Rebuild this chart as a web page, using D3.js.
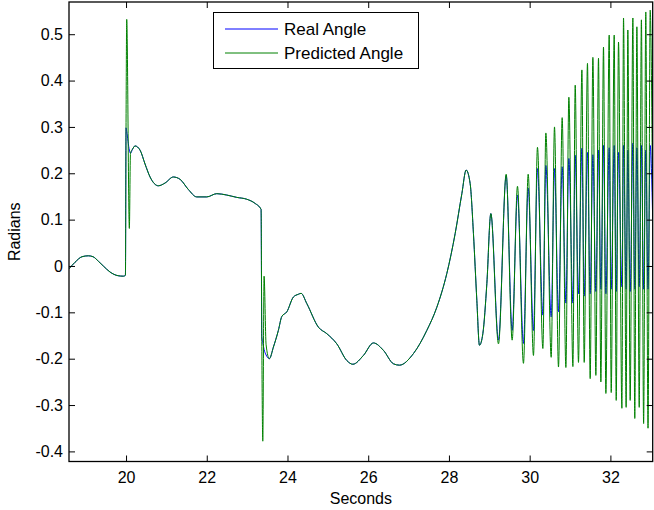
<!DOCTYPE html>
<html>
<head>
<meta charset="utf-8">
<script src="https://cdn.jsdelivr.net/npm/d3@7"></script>
<style>
  html, body { margin: 0; padding: 0; background: #fff; }
  svg { display: block; }
  text { font-family: "Liberation Sans", Arial, Helvetica, sans-serif; fill: #000; }
</style>
</head>
<body>
<svg id="chart" width="654" height="510"></svg>
<script>
// Sample times (s) and the two angle traces (rad)
const seconds = [
  18.587, 18.736, 18.910, 19.066, 19.182, 19.318, 19.437, 19.603, 19.802, 19.933,
  19.985, 20.000, 20.017, 20.082, 20.110, 20.161, 20.223, 20.347, 20.471, 20.595,
  20.800, 20.967, 21.172, 21.338, 21.544, 21.752, 22.000, 22.248, 22.496, 22.743,
  22.991, 23.197, 23.346, 23.363, 23.388, 23.420, 23.470, 23.551, 23.651, 23.774,
  23.859, 23.983, 24.146, 24.270, 24.337, 24.478, 24.766, 24.974, 25.222, 25.470,
  25.619, 25.881, 26.129, 26.377, 26.625, 26.773, 27.120, 27.452, 27.700, 27.948,
  28.154, 28.320, 28.426, 28.525, 28.607, 28.691, 28.756, 28.840, 28.939, 29.038,
  29.227, 29.418, 29.566, 29.698, 29.846, 29.963, 30.094, 30.193, 30.327, 30.401,
  30.533, 30.615, 30.714, 30.805, 30.897, 30.971, 31.071, 31.128, 31.209, 31.294,
  31.351, 31.432, 31.499, 31.566, 31.640, 31.705, 31.764, 31.829, 31.888, 31.970,
  32.020, 32.094, 32.144, 32.201, 32.285, 32.325, 32.390, 32.432, 32.490, 32.557,
  32.604, 32.656, 32.714, 32.768, 32.823, 32.877, 32.932, 32.986, 33.048
];

const realAngle = [
  -0.006, 0.008, 0.020, 0.022, 0.020, 0.010, 0.000, -0.013, -0.021, -0.022,
  -0.020, 0.298, 0.290, 0.250, 0.243, 0.252, 0.259, 0.250, 0.220, 0.192,
  0.173, 0.179, 0.192, 0.187, 0.165, 0.149, 0.149, 0.156, 0.153, 0.148,
  0.144, 0.135, 0.122, -0.153, -0.165, -0.180, -0.192, -0.200, -0.175, -0.139,
  -0.109, -0.099, -0.067, -0.061, -0.059, -0.081, -0.132, -0.146, -0.168, -0.204,
  -0.212, -0.193, -0.166, -0.182, -0.211, -0.214, -0.189, -0.139, -0.089, -0.016,
  0.070, 0.156, 0.207, 0.178, 0.070, -0.074, -0.171, -0.146, -0.038, 0.113,
  -0.160, 0.195, -0.139, 0.153, -0.167, 0.168, -0.139, 0.210, -0.106, 0.217,
  -0.110, 0.210, -0.099, 0.214, -0.080, 0.232, -0.080, 0.239, -0.060, 0.254,
  -0.065, 0.245, -0.060, 0.240, -0.055, 0.250, -0.050, 0.260, -0.060, 0.255,
  -0.050, 0.260, -0.055, 0.245, -0.045, 0.260, -0.050, 0.250, -0.055, 0.265,
  -0.050, 0.255, -0.045, 0.260, -0.050, 0.250, -0.050, 0.260, 0.100
];

const predictedAngle = [
  -0.006, 0.008, 0.020, 0.022, 0.020, 0.010, 0.000, -0.013, -0.021, -0.022,
  -0.020, 0.300, 0.532, 0.081, 0.243, 0.252, 0.259, 0.250, 0.220, 0.192,
  0.173, 0.179, 0.192, 0.187, 0.165, 0.149, 0.149, 0.156, 0.153, 0.148,
  0.144, 0.135, 0.122, -0.153, -0.378, -0.022, -0.170, -0.200, -0.175, -0.139,
  -0.109, -0.099, -0.067, -0.061, -0.059, -0.081, -0.132, -0.146, -0.168, -0.204,
  -0.212, -0.193, -0.166, -0.182, -0.211, -0.214, -0.189, -0.139, -0.089, -0.016,
  0.070, 0.156, 0.207, 0.178, 0.070, -0.074, -0.171, -0.146, -0.038, 0.113,
  -0.168, 0.198, -0.160, 0.172, -0.210, 0.198, -0.193, 0.256, -0.178, 0.287,
  -0.197, 0.300, -0.218, 0.320, -0.219, 0.364, -0.217, 0.390, -0.208, 0.423,
  -0.208, 0.437, -0.243, 0.450, -0.236, 0.448, -0.250, 0.472, -0.275, 0.498,
  -0.273, 0.498, -0.290, 0.483, -0.307, 0.535, -0.305, 0.509, -0.290, 0.535,
  -0.329, 0.516, -0.305, 0.531, -0.340, 0.548, -0.350, 0.552, 0.100
];

const xTicks = [20, 22, 24, 26, 28, 30, 32];
const yTicks = [-0.4, -0.3, -0.2, -0.1, 0, 0.1, 0.2, 0.3, 0.4, 0.5];
const seriesNames = ["Real Angle", "Predicted Angle"];
const seriesColors = ["#0000ff", "#008000"];

const plot = { left: 69, top: 2, right: 652.7, bottom: 461.5 };
const tickLen = 6;
const fontSize = 16;
const legendFontSize = 17;

const svg = d3.select("#chart");

const x = d3.scaleLinear().domain([18.587, 33.048]).range([plot.left, plot.right]);
const y = d3.scaleLinear().domain([-0.4218, 0.5695]).range([plot.bottom, plot.top]);

svg.append("rect").attr("width", 654).attr("height", 510).attr("fill", "#fff");

svg.append("clipPath").attr("id", "plot-clip")
  .append("rect")
  .attr("x", plot.left).attr("y", plot.top)
  .attr("width", plot.right - plot.left).attr("height", plot.bottom - plot.top);

// Traces: real first, predicted drawn over it
const series = [realAngle, predictedAngle];
const line = d3.line()
  .x(d => x(d[0]))
  .y(d => y(d[1]))
  .curve(d3.curveMonotoneX);

const traces = svg.append("g").attr("clip-path", "url(#plot-clip)");
series.forEach((vals, i) => {
  traces.append("path")
    .datum(seconds.map((t, k) => [t, vals[k]]))
    .attr("fill", "none")
    .attr("stroke", seriesColors[i])
    .attr("stroke-width", 1)
    .attr("stroke-linejoin", "round")
    .attr("d", line);
});

// Axes with inward ticks on all four sides
function styleAxis(g) {
  g.select(".domain").remove();
  g.selectAll(".tick line").attr("stroke", "#000").attr("stroke-width", 1);
  g.selectAll(".tick text")
    .attr("font-size", fontSize)
    .attr("fill", "#000")
    .style("font-family", "'Liberation Sans', Arial, sans-serif");
}

svg.append("g")
  .attr("transform", `translate(0,${plot.bottom})`)
  .call(d3.axisBottom(x).tickValues(xTicks).tickSizeInner(-tickLen).tickSizeOuter(0)
    .tickPadding(10).tickFormat(d => String(d)))
  .call(styleAxis);

svg.append("g")
  .attr("transform", `translate(0,${plot.top})`)
  .call(d3.axisTop(x).tickValues(xTicks).tickSizeInner(-tickLen).tickSizeOuter(0)
    .tickFormat(""))
  .call(styleAxis);

svg.append("g")
  .attr("transform", `translate(${plot.left},0)`)
  .call(d3.axisLeft(y).tickValues(yTicks).tickSizeInner(-tickLen).tickSizeOuter(0)
    .tickPadding(6).tickFormat(d => String(d)))
  .call(styleAxis);

svg.append("g")
  .attr("transform", `translate(${plot.right},0)`)
  .call(d3.axisRight(y).tickValues(yTicks).tickSizeInner(-tickLen).tickSizeOuter(0)
    .tickFormat(""))
  .call(styleAxis);

// Axes box
svg.append("rect")
  .attr("x", plot.left).attr("y", plot.top)
  .attr("width", plot.right - plot.left).attr("height", plot.bottom - plot.top)
  .attr("fill", "none").attr("stroke", "#000").attr("stroke-width", 1.3);

// Axis titles
svg.append("text")
  .attr("x", (plot.left + plot.right) / 2).attr("y", 498)
  .attr("text-anchor", "middle").attr("dominant-baseline", "central")
  .attr("font-size", fontSize)
  .text("Seconds");

svg.append("text")
  .attr("transform", `translate(14.5,${(plot.top + plot.bottom) / 2}) rotate(-90)`)
  .attr("text-anchor", "middle").attr("dominant-baseline", "central")
  .attr("font-size", fontSize)
  .text("Radians");

// Legend
const legend = svg.append("g").attr("transform", "translate(213.5,12.5)");
legend.append("rect")
  .attr("width", 205).attr("height", 56)
  .attr("fill", "#fff").attr("stroke", "#000").attr("stroke-width", 1);
seriesNames.forEach((name, i) => {
  const cy = 16.5 + i * 24;
  legend.append("line")
    .attr("x1", 11.5).attr("x2", 64.5).attr("y1", cy).attr("y2", cy)
    .attr("stroke", seriesColors[i]).attr("stroke-width", 1);
  legend.append("text")
    .attr("x", 70.5).attr("y", cy)
    .attr("dominant-baseline", "central")
    .attr("font-size", legendFontSize)
    .text(name);
});
</script>
</body>
</html>
